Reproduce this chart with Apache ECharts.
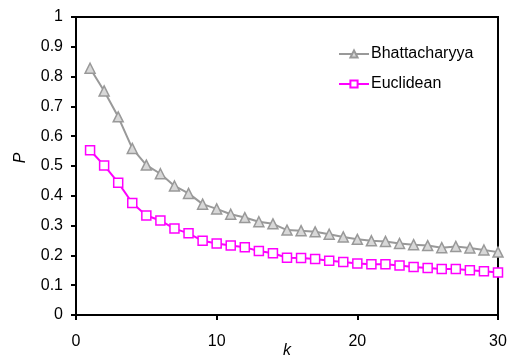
<!DOCTYPE html>
<html>
<head>
<meta charset="utf-8">
<script src="https://cdn.jsdelivr.net/npm/echarts@6/dist/echarts.min.js"></script>
<style>
  html, body { margin: 0; padding: 0; background: #fff; }
  #chart { width: 512px; height: 356px; }
</style>
</head>
<body>
<div id="chart"></div>
<script>
const kValues = [1, 2, 3, 4, 5, 6, 7, 8, 9, 10, 11, 12, 13, 14, 15, 16, 17, 18, 19, 20, 21, 22, 23, 24, 25, 26, 27, 28, 29, 30];
const bhattacharyya = [0.828, 0.752, 0.665, 0.559, 0.503, 0.474, 0.433, 0.408, 0.372, 0.356, 0.338, 0.327, 0.313, 0.306, 0.285, 0.283, 0.279, 0.271, 0.262, 0.254, 0.249, 0.247, 0.240, 0.236, 0.233, 0.226, 0.230, 0.225, 0.218, 0.211];
const euclidean = [0.553, 0.502, 0.444, 0.376, 0.334, 0.317, 0.290, 0.274, 0.249, 0.240, 0.233, 0.227, 0.215, 0.207, 0.192, 0.191, 0.188, 0.182, 0.178, 0.173, 0.170, 0.170, 0.166, 0.161, 0.158, 0.154, 0.154, 0.150, 0.147, 0.143];

const font = 'Liberation Sans, Arial, sans-serif';
const chart = echarts.init(document.getElementById('chart'));

chart.setOption({
  animation: false,
  backgroundColor: '#fff',
  textStyle: { fontFamily: font },
  grid: {
    left: 76, right: 14, top: 17, bottom: 41,
    outerBoundsMode: 'none',
    containLabel: false,
    show: true, borderColor: '#000', borderWidth: 2, backgroundColor: 'transparent',
  },
  legend: {
    orient: 'vertical',
    left: 333, top: 41,
    itemWidth: 30, itemHeight: 9, itemGap: 14,
    textStyle: { fontFamily: font, fontSize: 16, color: '#000', padding: [0, 0, 0, -3] },
    data: ['Bhattacharyya', 'Euclidean'],
  },
  xAxis: {
    type: 'value',
    min: 0, max: 30, interval: 10,
    name: 'k',
    nameLocation: 'middle',
    nameGap: 28,
    nameMoveOverlap: false,
    nameTextStyle: { fontFamily: font, fontSize: 16, fontStyle: 'italic', color: '#000' },
    axisLine: { lineStyle: { color: '#000', width: 2 } },
    axisTick: { length: 5, lineStyle: { color: '#000', width: 2 } },
    axisLabel: { fontFamily: font, fontSize: 16, color: '#000', margin: 19 },
    splitLine: { show: false },
  },
  yAxis: {
    type: 'value',
    min: 0, max: 1, interval: 0.1,
    name: 'P',
    nameLocation: 'middle',
    nameGap: 47,
    nameRotate: 90,
    nameMoveOverlap: false,
    nameTextStyle: { fontFamily: font, fontSize: 16, fontStyle: 'italic', color: '#000', padding: [0, 0, 0, 16] },
    axisLine: { lineStyle: { color: '#000', width: 2 } },
    axisTick: { length: 5, lineStyle: { color: '#000', width: 2 } },
    axisLabel: { fontFamily: font, fontSize: 16, color: '#000', margin: 13 },
    splitLine: { show: false },
  },
  series: [
    {
      name: 'Bhattacharyya',
      type: 'line',
      data: kValues.map((k, i) => [k, bhattacharyya[i]]),
      symbol: 'triangle',
      symbolSize: 10,
      showAllSymbol: true,
      lineStyle: { color: '#999999', width: 2 },
      itemStyle: { color: '#d8d8d8', borderColor: '#999999', borderWidth: 1.5 },
    },
    {
      name: 'Euclidean',
      type: 'line',
      data: kValues.map((k, i) => [k, euclidean[i]]),
      symbol: 'rect',
      symbolSize: 9,
      showAllSymbol: true,
      lineStyle: { color: '#ff00ff', width: 2 },
      itemStyle: { color: '#ffffff', borderColor: '#ff00ff', borderWidth: 1.5 },
    },
  ],
});
</script>
</body>
</html>
